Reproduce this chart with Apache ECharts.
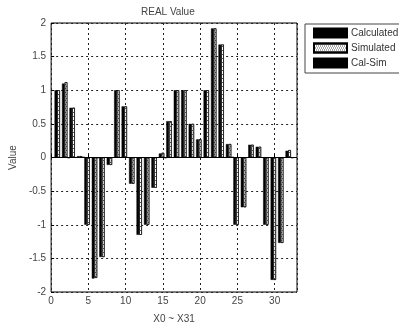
<!DOCTYPE html>
<html>
<head>
<meta charset="utf-8">
<title>REAL Value</title>
<script src="https://cdn.jsdelivr.net/npm/echarts/dist/echarts.min.js"></script>
<style>
  html, body { margin: 0; padding: 0; background: #fff; }
  #chart { width: 399px; height: 329px; }
</style>
</head>
<body>
<div id="chart"></div>
<script>
// X0 ~ X31 sit at x = 1..32
const positions = [1, 2, 3, 4, 5, 6, 7, 8, 9, 10, 11, 12, 13, 14, 15, 16,
  17, 18, 19, 20, 21, 22, 23, 24, 25, 26, 27, 28, 29, 30, 31, 32];
const calculated = [1.0, 1.1, 0.74, 0.02, -1.0, -1.8, -1.48, -0.11, 1.0, 0.76, -0.39, -1.15, -1.0, -0.45, 0.06, 0.54,
  1.0, 1.0, 0.5, 0.27, 1.0, 1.92, 1.68, 0.2, -1.0, -0.74, 0.19, 0.16, -1.0, -1.82, -1.27, 0.1];
const simulated = [1.0, 1.12, 0.74, 0.02, -1.0, -1.79, -1.48, -0.11, 1.0, 0.76, -0.39, -1.15, -1.0, -0.45, 0.07, 0.54,
  1.0, 1.0, 0.5, 0.27, 1.0, 1.92, 1.68, 0.2, -1.0, -0.74, 0.19, 0.16, -1.0, -1.82, -1.27, 0.11];
const calSim = [0, -0.01, 0, 0.01, 0, -0.01, 0, 0, 0, 0, 0, 0, 0, 0, -0.01, 0,
  0, 0, 0, 0, 0, 0, 0, 0.01, 0, 0, 0, 0, 0, 0, 0, -0.01];
const seriesNames = ['Calculated', 'Simulated', 'Cal-Sim'];
const xTicks = [0, 5, 10, 15, 20, 25, 30];

const chart = echarts.init(document.getElementById('chart'));

const font = 'Arial, "Liberation Sans", sans-serif';
const toPairs = (vals) => vals.map((v, i) => [positions[i], v]);

const option = {
  animation: false,
  title: {
    text: 'REAL Value',
    left: 141,
    top: 7,
    padding: 0,
    textStyle: { fontFamily: font, fontSize: 10, fontWeight: 'normal', color: '#444' },
  },
  legend: {
    orient: 'vertical',
    left: 305,
    top: 24,
    padding: [3, 4, 4, 8],
    itemWidth: 33,
    itemHeight: 9,
    itemGap: 3,
    icon: 'rect',
    borderColor: '#444',
    borderWidth: 1,
    textStyle: { fontFamily: font, fontSize: 10, lineHeight: 12, color: '#333', padding: [0, 0, 0, -1] },
    data: seriesNames,
  },
  grid: {
    left: 45,
    top: 23,
    width: 252,
    height: 275.5,
    show: true,
    borderColor: '#000',
    borderWidth: 1,
  },
  xAxis: {
    type: 'value',
    min: 0,
    max: 33,
    interval: 5,
    name: 'X0 ~ X31',
    nameLocation: 'middle',
    nameGap: 22,
    nameTextStyle: { fontFamily: font, fontSize: 10, color: '#444' },
    axisLine: { show: false },
    axisTick: { show: true, inside: true, length: 3, lineStyle: { color: '#000' } },
    axisLabel: {
      fontFamily: font, fontSize: 10, color: '#444', margin: 4,
      showMaxLabel: false,
      formatter: (v) => (xTicks.includes(v) ? String(v) : ''),
    },
    splitLine: { show: true, lineStyle: { color: '#222', type: [2, 3], width: 1 } },
  },
  yAxis: {
    type: 'value',
    min: -2,
    max: 2,
    interval: 0.5,
    name: 'Value',
    nameLocation: 'middle',
    nameGap: 27,
    nameTextStyle: { fontFamily: font, fontSize: 10, color: '#444' },
    axisLine: { show: false },
    axisTick: { show: true, inside: true, length: 3, lineStyle: { color: '#000' } },
    axisLabel: { fontFamily: font, fontSize: 10, color: '#444', margin: 5 },
    splitLine: { show: true, lineStyle: { color: '#222', type: [2, 3], width: 1 } },
  },
  series: [
    {
      name: seriesNames[0],
      type: 'bar',
      barWidth: 2.7,
      barGap: '0%',
      itemStyle: { color: '#000', borderColor: '#000', borderWidth: 0.5 },
      data: toPairs(calculated),
      markLine: {
        silent: true,
        symbol: ['none', 'none'],
        label: { show: false },
        lineStyle: { color: '#000', type: 'solid', width: 1 },
        data: [{ yAxis: 0 }],
      },
    },
    {
      name: seriesNames[1],
      type: 'bar',
      barWidth: 2.7,
      barGap: '0%',
      itemStyle: {
        color: '#fff',
        borderColor: '#000',
        borderWidth: 0.6,
        // dotted fill like the MATLAB hatch
        decal: {
          symbol: 'rect',
          symbolSize: 1,
          dashArrayX: [[1, 1], [0, 1, 1, 0]],
          dashArrayY: [1, 1],
          color: '#555',
        },
      },
      data: toPairs(simulated),
    },
    {
      name: seriesNames[2],
      type: 'bar',
      barWidth: 2.7,
      barGap: '0%',
      itemStyle: { color: '#000', borderColor: '#000', borderWidth: 0.5 },
      data: toPairs(calSim),
    },
  ],
};

chart.setOption(option);
</script>
</body>
</html>
